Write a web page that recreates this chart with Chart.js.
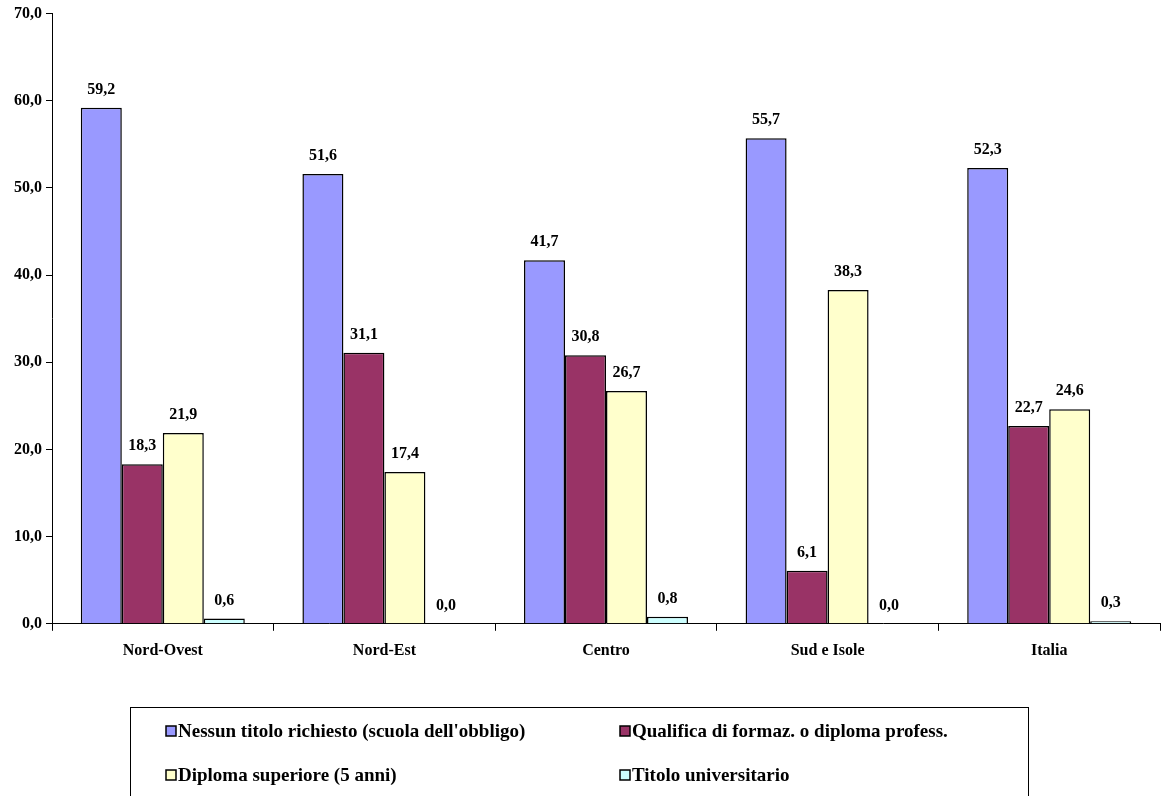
<!DOCTYPE html>
<html>
<head>
<meta charset="utf-8">
<script src="https://cdn.jsdelivr.net/npm/chart.js@4/dist/chart.umd.min.js"></script>
<style>
  html, body { margin: 0; padding: 0; background: #fff; }
  #wrap { width: 1169px; height: 796px; position: relative; }
</style>
</head>
<body>
<div id="wrap"><canvas id="myChart"></canvas></div>
<script>
// data
const categories = ['Nord-Ovest', 'Nord-Est', 'Centro', 'Sud e Isole', 'Italia'];
const seriesNames = [
  "Nessun titolo richiesto (scuola dell'obbligo)",
  'Qualifica di formaz. o diploma profess.',
  'Diploma superiore (5 anni)',
  'Titolo universitario'
];
const nessunTitolo = [59.2, 51.6, 41.7, 55.7, 52.3];
const qualifica = [18.3, 31.1, 30.8, 6.1, 22.7];
const diplomaSup = [21.9, 17.4, 26.7, 38.3, 24.6];
const universitario = [0.6, 0.0, 0.8, 0.0, 0.3];
const yTicks = [0, 10, 20, 30, 40, 50, 60, 70];

const colors = ['#9999FF', '#993366', '#FFFFCC', '#CCFFFF'];
const FONT = '"Liberation Serif", "Times New Roman", serif';

const fmt = v => v.toFixed(1).replace('.', ',');

// value labels above each bar
const valueLabels = {
  id: 'valueLabels',
  afterDatasetsDraw(chart) {
    const ctx = chart.ctx;
    ctx.save();
    ctx.font = 'bold 16px ' + FONT;
    ctx.fillStyle = '#000';
    ctx.textAlign = 'center';
    ctx.textBaseline = 'bottom';
    chart.data.datasets.forEach((ds, i) => {
      chart.getDatasetMeta(i).data.forEach((bar, j) => {
        ctx.fillText(fmt(ds.data[j]), bar.x, bar.y - 10);
      });
    });
    ctx.restore();
  }
};

// boxed two-column legend at the bottom
const boxLegend = {
  id: 'boxLegend',
  afterDraw(chart) {
    const ctx = chart.ctx;
    ctx.save();
    ctx.strokeStyle = '#000';
    ctx.lineWidth = 1;
    ctx.strokeRect(130.5, 707.5, 898, 100);
    ctx.font = 'bold 19px ' + FONT;
    ctx.textAlign = 'left';
    ctx.textBaseline = 'middle';
    chart.data.datasets.forEach((ds, i) => {
      const x = i % 2 === 0 ? 166 : 620;
      const y = i < 2 ? 731 : 775;
      ctx.fillStyle = ds.backgroundColor;
      ctx.fillRect(x, y - 5, 10, 10);
      ctx.strokeStyle = '#000';
      ctx.lineWidth = 1.5;
      ctx.strokeRect(x, y - 5, 10, 10);
      ctx.fillStyle = '#000';
      ctx.fillText(ds.label, x + 12, y + 1);
    });
    ctx.restore();
  }
};

const datasets = [nessunTitolo, qualifica, diplomaSup, universitario].map((d, i) => ({
  label: seriesNames[i],
  data: d,
  backgroundColor: colors[i],
  borderColor: '#000',
  borderWidth: 1.5,
  categoryPercentage: 0.74,
  barPercentage: 1.0
}));

new Chart(document.getElementById('myChart'), {
  type: 'bar',
  data: { labels: categories, datasets },
  options: {
    responsive: true,
    maintainAspectRatio: false,
    animation: false,
    layout: { padding: { top: 6, right: 9, bottom: 126, left: 10 } },
    plugins: {
      legend: { display: false },
      tooltip: { enabled: false }
    },
    scales: {
      x: {
        grid: { drawOnChartArea: false, color: '#000', tickLength: 7, offset: true },
        border: { color: '#000', width: 1 },
        ticks: { color: '#000', font: { family: FONT, size: 16, weight: 'bold' }, padding: 10 }
      },
      y: {
        min: 0,
        max: 70,
        afterBuildTicks: axis => { axis.ticks = yTicks.map(v => ({ value: v })); },
        grid: { drawOnChartArea: false, color: '#000', tickLength: 6 },
        border: { color: '#000', width: 1 },
        ticks: {
          color: '#000',
          font: { family: FONT, size: 16, weight: 'bold' },
          padding: 4,
          callback: v => fmt(v)
        }
      }
    }
  },
  plugins: [valueLabels, boxLegend]
});
</script>
</body>
</html>
